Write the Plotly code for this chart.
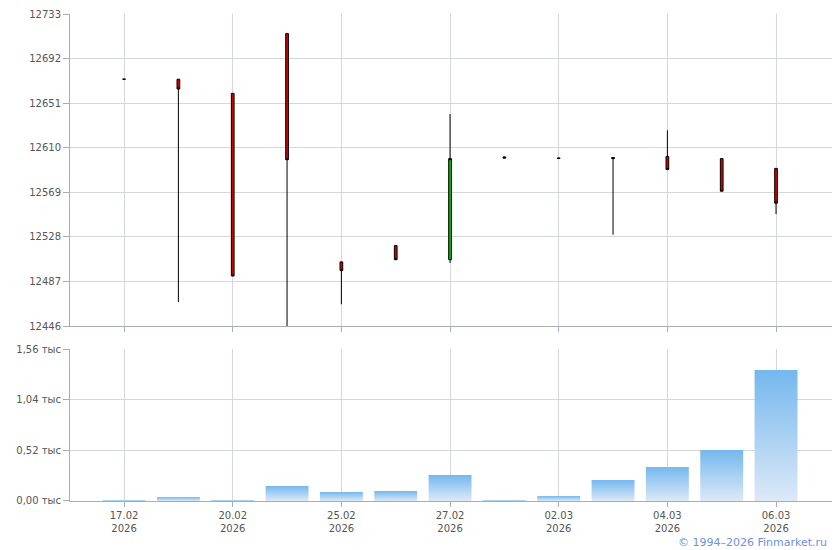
import plotly.graph_objects as go
from plotly.subplots import make_subplots

dates = ["17.02", "18.02", "20.02", "24.02", "25.02", "26.02", "27.02",
         "28.02", "02.03", "03.03", "04.03", "05.03", "06.03"]
year = "2026"
open_ = [12673, 12673, 12660, 12715, 12505, 12520, 12507, 12601.5, 12600.5, 12601, 12602, 12600, 12591]
high = [12673, 12673, 12660, 12715, 12505, 12520, 12641, 12602, 12601, 12601, 12626, 12600, 12591]
low = [12673, 12468, 12492, 12446, 12466, 12507, 12504, 12600.5, 12600, 12530, 12590, 12570, 12549]
close = [12673, 12664, 12492, 12599, 12497, 12507, 12600, 12600.5, 12600.2, 12600, 12590, 12570, 12559]
volume = [0.01, 0.041, 0.01, 0.154, 0.092, 0.103, 0.267, 0.01, 0.051, 0.215, 0.349, 0.523, 1.344]

price_ticks = [12446, 12487, 12528, 12569, 12610, 12651, 12692, 12733]
vol_ticks = [0, 0.52, 1.04, 1.56]
vol_ticktext = ["0,00 тыс", "0,52 тыс", "1,04 тыс", "1,56 тыс"]

x = list(range(len(dates)))
label_idx = [0, 2, 4, 6, 8, 10, 12]
label_text = [f"{dates[i]}<br>{year}" for i in label_idx]

fig = make_subplots(rows=2, cols=1, shared_xaxes=False, vertical_spacing=0.0)

fig.add_trace(go.Candlestick(
    x=x, open=open_, high=high, low=low, close=close,
    increasing=dict(fillcolor="#00C000", line=dict(color="#000000", width=1)),
    decreasing=dict(fillcolor="#D00000", line=dict(color="#000000", width=1)),
    whiskerwidth=0, showlegend=False, hoverinfo="skip"), row=1, col=1)

half = 0.395
for i, v in zip(x, volume):
    fig.add_trace(go.Scatter(
        x=[i - half, i - half, i + half, i + half, i - half],
        y=[0, v, v, 0, 0],
        mode="lines", line=dict(width=0), fill="toself",
        fillgradient=dict(type="vertical",
                          colorscale=[[0, "#DDE9F7"], [1, "#74B8EE"]]),
        showlegend=False, hoverinfo="skip"), row=2, col=1)

grid = "#D3D7DC"
axis_c = "#A9ADB3"
font_c = "#555555"

xcommon = dict(range=[-0.995, 13.03], tickmode="array", tickvals=label_idx,
               showgrid=True, gridcolor=grid, gridwidth=1,
               showline=True, linecolor=axis_c, linewidth=1,
               ticks="outside", ticklen=5, tickcolor=axis_c,
               zeroline=False, rangeslider=dict(visible=False))
fig.update_xaxes(**xcommon, ticktext=[""] * len(label_idx), showticklabels=False, row=1, col=1)
fig.update_xaxes(**xcommon, ticktext=label_text, showticklabels=True, row=2, col=1)

ycommon = dict(showgrid=True, gridcolor=grid, gridwidth=1,
               showline=True, linecolor=axis_c, linewidth=1,
               ticks="outside", ticklen=6, tickcolor=axis_c,
               zeroline=False, tickmode="array")
fig.update_yaxes(**ycommon, range=[12446, 12733], tickvals=price_ticks,
                 ticktext=[str(t) for t in price_ticks], row=1, col=1)
fig.update_yaxes(**ycommon, range=[0, 1.56], tickvals=vol_ticks,
                 ticktext=vol_ticktext, row=2, col=1)

fig.update_layout(
    width=832, height=542,
    margin=dict(l=62, r=8, t=6, b=49, autoexpand=False),
    paper_bgcolor="white", plot_bgcolor="white",
    font=dict(family="DejaVu Sans, Verdana, sans-serif", size=10, color=font_c),
    boxgap=0.95, boxgroupgap=0.0,
    xaxis=dict(domain=[0, 1]), xaxis2=dict(domain=[0, 1]),
    yaxis=dict(domain=[0.3593, 1.0]), yaxis2=dict(domain=[0.0, 0.3121]),
    annotations=[dict(text="© 1994–2026 Finmarket.ru", xref="paper", yref="paper",
                      x=0.996, y=-0.0842, xanchor="right", yanchor="middle",
                      showarrow=False, font=dict(size=11, color="#6F8FE6"))],
)

fig.write_html("out.html")
